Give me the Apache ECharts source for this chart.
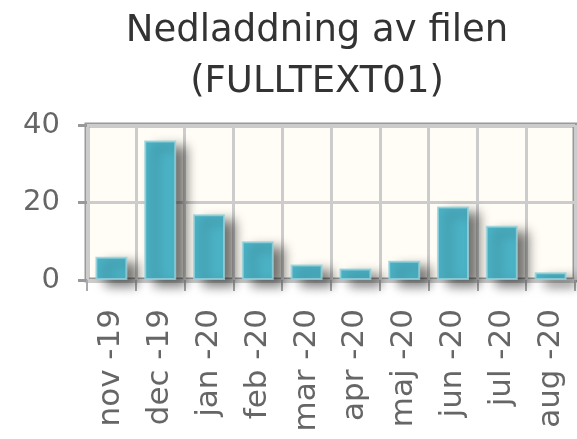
<!DOCTYPE html>
<html>
<head>
<meta charset="utf-8">
<script src="https://cdn.jsdelivr.net/npm/echarts@6/dist/echarts.min.js"></script>
<style>
  html, body { margin: 0; padding: 0; background: #fff; }
  #chart { width: 577px; height: 439px; }
</style>
</head>
<body>
<div id="chart"></div>
<script>
// downloads per month
var months = ['nov -19', 'dec -19', 'jan -20', 'feb -20', 'mar -20', 'apr -20', 'maj -20', 'jun -20', 'jul -20', 'aug -20'];
var downloads = [6, 36, 17, 10, 4, 3, 5, 19, 14, 2];
var yTicks = [0, 20, 40];

var chart = echarts.init(document.getElementById('chart'));
var font = 'DejaVu Sans';

chart.setOption({
    animation: false,
    title: {
        text: 'Nedladdning av filen\n(FULLTEXT01)',
        left: 312,
        textAlign: 'center',
        top: 1,
        textStyle: {
            fontFamily: font,
            fontSize: 37,
            fontWeight: 'normal',
            color: '#333',
            lineHeight: 51
        }
    },
    grid: {
        left: 87,
        right: 2,
        top: 125,
        bottom: 159,
        show: true,
        backgroundColor: '#fffdf5',
        borderColor: '#999',
        borderWidth: 5
    },
    xAxis: {
        type: 'category',
        data: months,
        axisLine: { show: false },
        axisTick: {
            show: true,
            length: 11,
            lineStyle: { color: '#aaa', width: 2 }
        },
        splitLine: {
            show: true,
            lineStyle: { color: '#ccc', width: 3 }
        },
        axisLabel: {
            rotate: 90,
            margin: 29,
            fontFamily: font,
            fontSize: 31,
            color: '#666'
        }
    },
    yAxis: {
        type: 'value',
        min: yTicks[0],
        max: yTicks[yTicks.length - 1],
        interval: 20,
        axisLine: { show: false },
        axisTick: {
            show: true,
            length: 9,
            lineStyle: { color: '#999', width: 3 }
        },
        splitLine: {
            show: true,
            lineStyle: { color: '#ccc', width: 3 }
        },
        axisLabel: {
            margin: 27,
            fontFamily: font,
            fontSize: 29,
            color: '#666'
        }
    },
    series: [{
        type: 'bar',
        data: downloads,
        barWidth: 32,
        itemStyle: {
            color: '#4bb2c5',
            borderColor: 'rgba(150,210,220,0.8)',
            borderWidth: 2,
            shadowColor: 'rgba(0,0,0,0.55)',
            shadowBlur: 12,
            shadowOffsetX: 10,
            shadowOffsetY: 6
        }
    }]
});
</script>
</body>
</html>
